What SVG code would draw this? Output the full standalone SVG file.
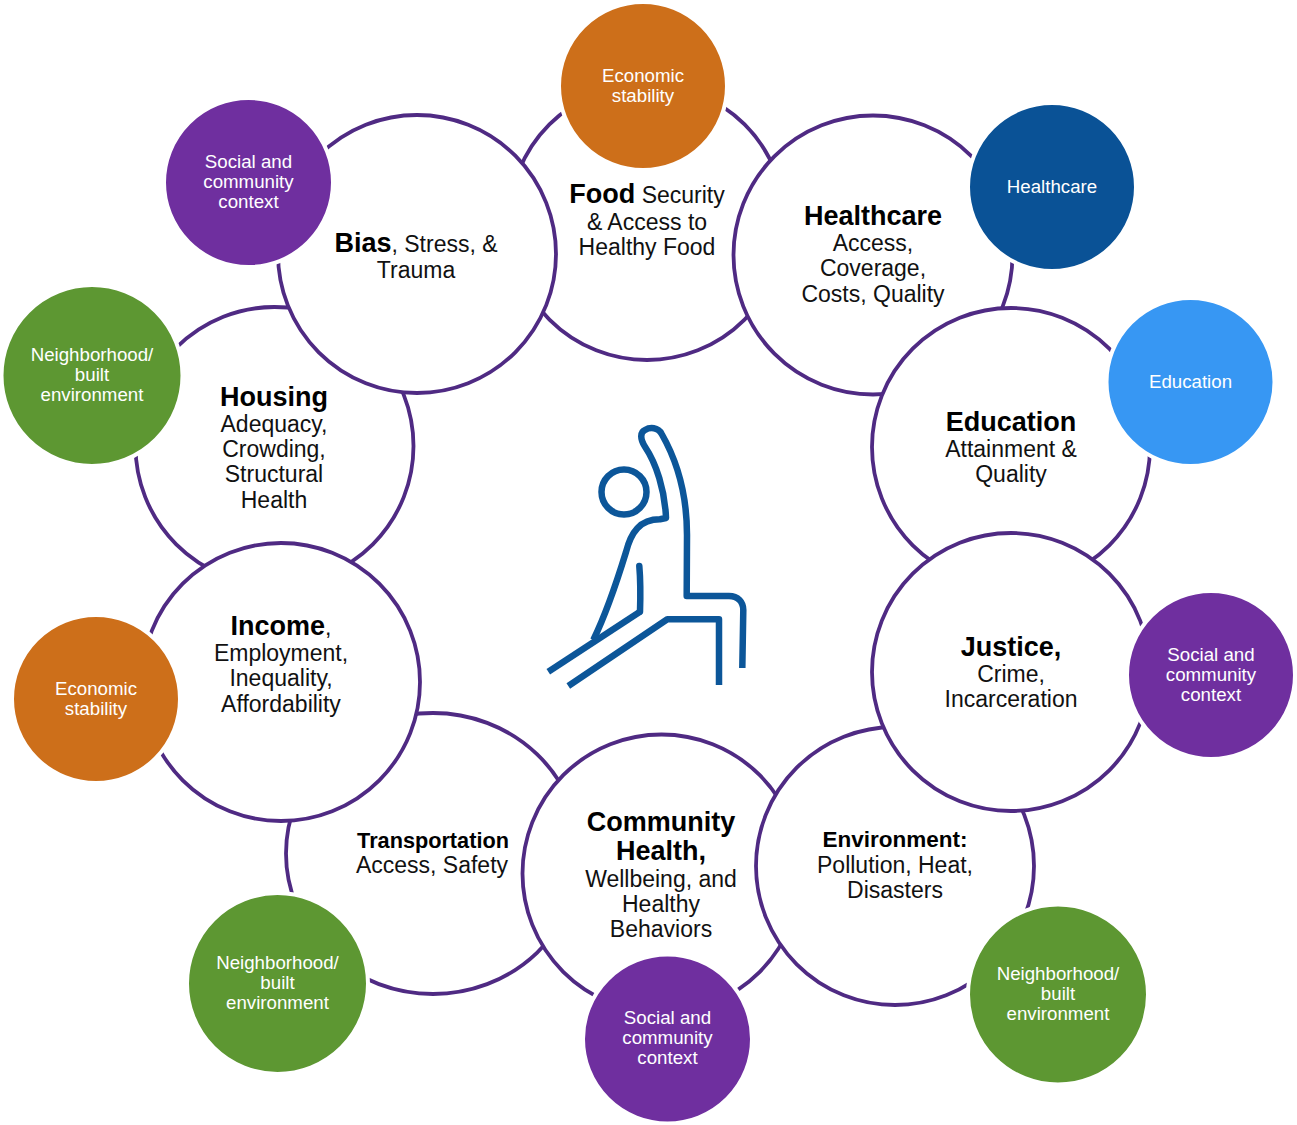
<svg xmlns="http://www.w3.org/2000/svg" width="1297" height="1125" viewBox="0 0 1297 1125">
<style>
text{font-family:"Liberation Sans",Arial,sans-serif;text-anchor:middle}
.big{fill:#fff;stroke:#4f2a83;stroke-width:3.800}
.sm{stroke:#fff;stroke-width:4}
.t{font-size:23px;fill:#111}
.b{font-weight:bold;font-size:27px;fill:#000}
.b2{font-weight:bold;font-size:22px;fill:#000}
.w{font-size:18.7px;fill:#fff}
.or{fill:#cd6f1a}.pu{fill:#6f2f9f}.gr{fill:#5d9732}.nv{fill:#0a5296}.lb{fill:#3797f3}
.ic{fill:none;stroke:#0c5699;stroke-width:6.500;stroke-linejoin:round}
</style>
<g id="connectors"></g>
<g id="food"><circle class="big" cx="647" cy="222" r="138"/><text class="t" x="647" y="203"><tspan class="b">Food</tspan> Security</text><text class="t" x="647" y="230">&amp; Access to</text><text class="t" x="647" y="255">Healthy Food</text></g>
<g id="healthcare"><circle class="big" cx="873" cy="255" r="139.500"/><text class="b" x="873" y="225">Healthcare</text><text class="t" x="873" y="251">Access,</text><text class="t" x="873" y="276">Coverage,</text><text class="t" x="873" y="302">Costs, Quality</text></g>
<g id="education"><circle class="big" cx="1011" cy="447" r="139"/><text class="b" x="1011" y="431">Education</text><text class="t" x="1011" y="457">Attainment &amp;</text><text class="t" x="1011" y="482">Quality</text></g>
<g id="transportation"><ellipse class="big" cx="433" cy="853.500" rx="147" ry="140.500"/><text class="b2" x="433" y="848" style="font-size:21.700px">Transportation</text><text class="t" x="432" y="873">Access, Safety</text></g>
<g id="community"><circle class="big" cx="661.500" cy="873.500" r="139"/><text class="b" x="661" y="831">Community</text><text class="b" x="661" y="860">Health,</text><text class="t" x="661" y="887">Wellbeing, and</text><text class="t" x="661" y="912">Healthy</text><text class="t" x="661" y="937">Behaviors</text></g>
<g id="environment"><circle class="big" cx="895" cy="866" r="139"/><text class="b2" x="895" y="847" style="font-size:22.500px">Environment:</text><text class="t" x="895" y="873">Pollution, Heat,</text><text class="t" x="895" y="898">Disasters</text></g>
<g id="justice"><circle class="big" cx="1011" cy="672" r="139"/><text class="b" x="1011" y="656">Justice,</text><text class="t" x="1011" y="682">Crime,</text><text class="t" x="1011" y="707">Incarceration</text></g>
<g id="housing"><circle class="big" cx="274.500" cy="446" r="139"/><text class="b" x="274" y="406">Housing</text><text class="t" x="274" y="432">Adequacy,</text><text class="t" x="274" y="457">Crowding,</text><text class="t" x="274" y="482">Structural</text><text class="t" x="274" y="508">Health</text></g>
<g id="income"><circle class="big" cx="281" cy="682" r="139"/><text class="t" x="281" y="635"><tspan class="b">Income</tspan>,</text><text class="t" x="281" y="661">Employment,</text><text class="t" x="281" y="686">Inequality,</text><text class="t" x="281" y="712">Affordability</text></g>
<g id="bias"><circle class="big" cx="417" cy="254" r="139"/><text class="t" x="416" y="252"><tspan class="b">Bias</tspan>, Stress, &amp;</text><text class="t" x="416" y="278">Trauma</text></g>
<g id="b-economic-top"><circle class="sm or" cx="643" cy="86" r="84"/><text class="w" x="643" y="82">Economic</text><text class="w" x="643" y="102">stability</text></g>
<g id="b-healthcare"><circle class="sm nv" cx="1052" cy="187" r="84"/><text class="w" x="1052" y="193">Healthcare</text></g>
<g id="b-education"><circle class="sm lb" cx="1190.500" cy="382" r="84"/><text class="w" x="1190.500" y="388">Education</text></g>
<g id="b-social-right"><circle class="sm pu" cx="1211" cy="675" r="84"/><text class="w" x="1211" y="661">Social and</text><text class="w" x="1211" y="681">community</text><text class="w" x="1211" y="701">context</text></g>
<g id="b-neigh-right"><circle class="sm gr" cx="1058" cy="994.500" r="90"/><text class="w" x="1058" y="980">Neighborhood/</text><text class="w" x="1058" y="1000">built</text><text class="w" x="1058" y="1020">environment</text></g>
<g id="b-social-bottom"><circle class="sm pu" cx="667.500" cy="1039" r="84.500"/><text class="w" x="667.500" y="1024">Social and</text><text class="w" x="667.500" y="1044">community</text><text class="w" x="667.500" y="1064">context</text></g>
<g id="b-neigh-bottom"><circle class="sm gr" cx="277.500" cy="983.500" r="90.500"/><text class="w" x="277.500" y="969">Neighborhood/</text><text class="w" x="277.500" y="989">built</text><text class="w" x="277.500" y="1009">environment</text></g>
<g id="b-economic-left"><circle class="sm or" cx="96" cy="699" r="84"/><text class="w" x="96" y="695">Economic</text><text class="w" x="96" y="715">stability</text></g>
<g id="b-neigh-left"><circle class="sm gr" cx="92" cy="375.500" r="90.500"/><text class="w" x="92" y="361">Neighborhood/</text><text class="w" x="92" y="381">built</text><text class="w" x="92" y="401">environment</text></g>
<g id="b-social-left"><circle class="sm pu" cx="248.500" cy="182.500" r="84.500"/><text class="w" x="248.500" y="168">Social and</text><text class="w" x="248.500" y="188">community</text><text class="w" x="248.500" y="208">context</text></g>
<g id="icon" class="ic">
<circle cx="624" cy="492" r="22.500"/>
<path d="M593.300 640C606 614 618 578 626 552C631 532 640 519.300 660 519.300L666 518C665 490 656 463 645 446.700C640 439 640 432 645 430C650 427 658 427 661.700 434C680 466 687 500 687 535L686.700 596L729 596C738 596 743.300 602 743.300 610L742.300 668"/>
<path d="M640 611.700L548.300 671.700"/>
<path d="M639.300 566C640.500 580 640.500 596 640 611.700" stroke-linecap="round"/>
<path d="M568.300 686L667.300 619.300L719 619.300L719 685"/>
</g>
</svg>
